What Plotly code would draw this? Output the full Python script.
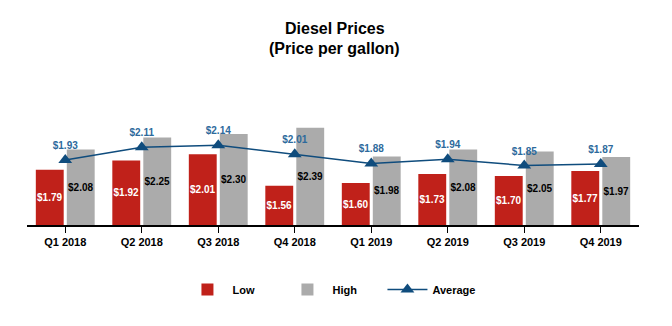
import plotly.graph_objects as go

quarters = ["Q1 2018", "Q2 2018", "Q3 2018", "Q4 2018",
            "Q1 2019", "Q2 2019", "Q3 2019", "Q4 2019"]
low = [1.79, 1.92, 2.01, 1.56, 1.60, 1.73, 1.70, 1.77]
high = [2.08, 2.25, 2.30, 2.39, 1.98, 2.08, 2.05, 1.97]
average = [1.93, 2.11, 2.14, 2.01, 1.88, 1.94, 1.85, 1.87]

BASE = 1.0  # value axis starts at $1.00
FONT = "Liberation Sans, Arial, sans-serif"
RED = "#C0211A"
GRAY = "#ABABAB"
BLUE = "#0F4C7D"
BLUE_TEXT = "#2D6A9C"

fig = go.Figure()

fig.add_trace(go.Bar(
    name="Low", x=quarters, y=[v - BASE for v in low], base=BASE,
    marker=dict(color=RED, line=dict(width=0)),
    text=[f"${v:.2f}" for v in low], textposition="inside",
    insidetextanchor="middle", textangle=0, constraintext="none",
    textfont=dict(color="white", size=10, family=FONT, weight="bold"),
))
fig.add_trace(go.Bar(
    name="High", x=quarters, y=[v - BASE for v in high], base=BASE,
    marker=dict(color=GRAY, line=dict(width=0)),
    text=[f"${v:.2f}" for v in high], textposition="inside",
    insidetextanchor="middle", textangle=0, constraintext="none",
    textfont=dict(color="black", size=10, family=FONT, weight="bold"),
))
fig.add_trace(go.Scatter(
    name="Average", x=quarters, y=average, mode="lines+markers+text",
    line=dict(color=BLUE, width=1.5),
    marker=dict(symbol="triangle-up", size=12, color=BLUE),
    text=[f"${v:.2f}" for v in average], textposition="top center",
    textfont=dict(color=BLUE_TEXT, size=10, family=FONT, weight="bold"),
    cliponaxis=False,
))

# two-line heading, set as separate lines for tight leading
for line, ypos in (("Diesel Prices", 1.57), ("(Price per gallon)", 1.415)):
    fig.add_annotation(
        text=f"<b>{line}</b>", xref="paper", yref="paper",
        x=0.503, y=ypos, xanchor="center", yanchor="middle",
        showarrow=False, font=dict(size=16, family=FONT, color="black"),
    )

fig.update_layout(
    width=672, height=326,
    margin=dict(l=27, r=33, t=100, b=101),
    paper_bgcolor="white", plot_bgcolor="white",
    font=dict(family=FONT, color="black"),
    barmode="group", bargap=0.19, bargroupgap=0.1,
    showlegend=True,
    legend=dict(
        orientation="h", x=0.254, xanchor="left", y=-0.40, yanchor="top",
        itemwidth=40, entrywidth=45,
        font=dict(size=11, family=FONT, weight="bold"),
        traceorder="normal",
    ),
    xaxis=dict(
        showline=True, linecolor="black", linewidth=2,
        ticks="outside", ticklen=6, tickcolor="black", tickwidth=1,
        tickfont=dict(size=11, family=FONT, weight="bold"),
        showgrid=False,
    ),
    yaxis=dict(
        range=[BASE, BASE + 125 / 70], visible=False, showgrid=False,
    ),
)

fig.write_html("out.html")
